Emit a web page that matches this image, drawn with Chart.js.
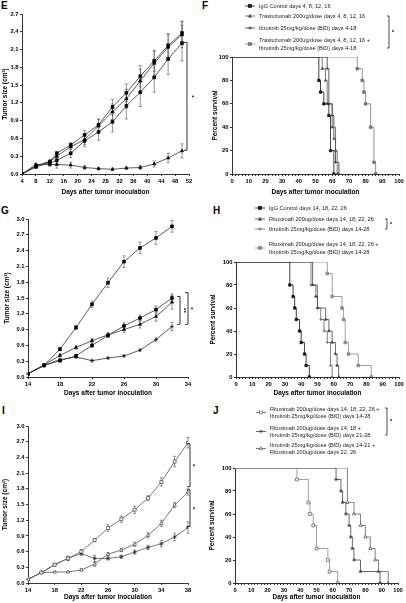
<!DOCTYPE html>
<html>
<head>
<meta charset="utf-8">
<script src="https://cdn.jsdelivr.net/npm/chart.js@4"></script>
<style>
  body { margin: 0; width: 406px; height: 603px; position: relative; overflow: hidden; background: #fff; font-family: "Liberation Sans", Arial, sans-serif; }
  canvas { position: absolute; }
  .lab { position: absolute; font-weight: bold; font-size: 10px; line-height: 10px; color: #000; }
  .lg { position: absolute; font-size: 5.6px; color: #222; white-space: nowrap; }
  #ov { position: absolute; left: 0; top: 0; }
</style>
</head>
<body>
<div class="lab" style="left:1px;top:1px">E</div>
<div class="lab" style="left:202px;top:1px">F</div>
<div class="lab" style="left:1px;top:206px">G</div>
<div class="lab" style="left:213px;top:206px">H</div>
<div class="lab" style="left:2px;top:406px">I</div>
<div class="lab" style="left:213px;top:406px">J</div>

<canvas id="chartE" width="200" height="200" style="left:0;top:0"></canvas>
<canvas id="chartF" width="206" height="155" style="left:200px;top:45px"></canvas>
<canvas id="chartG" width="200" height="200" style="left:0;top:200px"></canvas>
<canvas id="chartH" width="206" height="145" style="left:200px;top:255px"></canvas>
<canvas id="chartI" width="200" height="203" style="left:0;top:400px"></canvas>
<canvas id="chartJ" width="206" height="143" style="left:200px;top:460px"></canvas>
<svg id="ov" width="406" height="603"></svg>

<script>
// ---- E: tumor size, trastuzumab +/- ibrutinib ----
const eDays = [4, 8, 12, 14, 18, 22, 26, 30, 34, 38, 42, 46, 50];
const eIgG = [0, 0.14, 0.21, 0.35, 0.49, 0.66, 0.83, 1.13, 1.37, 1.65, 1.91, 2.17, 2.38];
const eIgGErr = [0, 0.02, 0.02, 0.03, 0.04, 0.07, 0.1, 0.13, 0.15, 0.18, 0.18, 0.2, 0.2];
const eTras = [0, 0.13, 0.21, 0.3, 0.46, 0.58, 0.81, 1.05, 1.27, 1.57, 1.87, 2.14, 2.35];
const eTrasErr = [0, 0.02, 0.02, 0.04, 0.05, 0.08, 0.11, 0.13, 0.16, 0.2, 0.2, 0.22, 0.22];
const eIbr = [0, 0.12, 0.19, 0.23, 0.35, 0.56, 0.71, 0.88, 1.15, 1.38, 1.63, 1.94, 2.21];
const eIbrErr = [0, 0.02, 0.03, 0.05, 0.07, 0.1, 0.14, 0.17, 0.22, 0.24, 0.25, 0.26, 0.3];
const eCombo = [0, 0.16, 0.16, 0.16, 0.15, 0.11, 0.09, 0.08, 0.1, 0.11, 0.17, 0.27, 0.39];
const eComboErr = [0, 0.02, 0.03, 0.06, 0.05, 0.03, 0.02, 0.02, 0.02, 0.03, 0.05, 0.08, 0.12];

// ---- F: survival ----
const fNames = [
  'IgG Control days 4, 8, 12, 16',
  'Trastuzumab 200ug/dose days 4, 8, 12, 16',
  'Ibrutinib 25mg/kg/dose (BID) days 4-18',
  'Trastuzumab 200ug/dose days 4, 8, 12, 16 +\nIbrutinib 25mg/kg/dose (BID) days 4-18',
];
const fIgGDays = [0, 52, 53, 55, 58, 59, 61];
const fIgGSurv = [100, 80, 70, 60, 50, 20, 0];
const fTrasDays = [0, 54, 56, 57, 60, 62, 63];
const fTrasSurv = [100, 90, 80, 60, 40, 20, 0];
const fIbrDays = [0, 57, 58, 60, 61, 62, 64];
const fIbrSurv = [100, 90, 60, 50, 30, 10, 0];
const fComboDays = [0, 75, 78, 79, 80, 83, 85, 86];
const fComboSurv = [100, 90, 80, 70, 60, 40, 10, 0];

// ---- G: tumor size, rituximab +/- ibrutinib ----
const gDays = [14, 16, 18, 20, 22, 24, 26, 28, 30, 32];
const gIgG = [0.06, 0.22, 0.53, 0.94, 1.38, 1.79, 2.19, 2.45, 2.64, 2.86];
const gIgGErr = [0.01, 0.02, 0.03, 0.04, 0.06, 0.09, 0.11, 0.11, 0.12, 0.11];
const gRit = [0.06, 0.22, 0.31, 0.4, 0.6, 0.79, 0.97, 1.12, 1.28, 1.5];
const gRitErr = [0.01, 0.02, 0.02, 0.03, 0.04, 0.04, 0.06, 0.06, 0.07, 0.08];
const gIbr = [0.06, 0.23, 0.41, 0.56, 0.69, 0.8, 0.9, 1.0, 1.15, 1.42];
const gIbrErr = [0.01, 0.02, 0.03, 0.03, 0.04, 0.04, 0.06, 0.07, 0.09, 0.13];
const gCombo = [0.06, 0.22, 0.33, 0.38, 0.31, 0.36, 0.4, 0.51, 0.71, 0.96];
const gComboErr = [0.01, 0.01, 0.02, 0.02, 0.02, 0.02, 0.02, 0.02, 0.03, 0.08];

// ---- H: survival ----
const hNames = [
  'IgG Control days 14, 18, 22, 26',
  'Rituximab 200ug/dose days 14, 18, 22, 26',
  'Ibrutinib 25mg/kg/dose (BID) days 14-28',
  'Rituximab 200ug/dose days 14, 18, 22, 26 +\nIbrutinib 25mg/kg/dose (BID) days 14-28',
];
const hIgGDays = [0, 33, 35, 36, 37, 39, 40, 42, 43, 45];
const hIgGSurv = [100, 80, 70, 60, 50, 40, 30, 20, 10, 0];
const hRitDays = [0, 47, 49, 50, 55, 57, 59, 61, 62, 63];
const hRitSurv = [100, 80, 70, 60, 50, 40, 30, 20, 10, 0];
const hIbrDays = [0, 46, 50, 52, 54, 56, 58, 59];
const hIbrSurv = [100, 80, 60, 50, 40, 30, 10, 0];
const hComboDays = [0, 56, 59, 65, 66, 67, 69, 75, 83];
const hComboSurv = [100, 90, 70, 60, 50, 30, 20, 10, 0];

// ---- I: tumor size, treatment schedules ----
const iDays = [14, 16, 18, 20, 22, 24, 26, 28, 30, 32, 34, 36, 38];
const iConc = [0.07, 0.2, 0.35, 0.47, 0.6, 0.82, 1.05, 1.22, 1.4, 1.62, 1.93, 2.32, 2.68];
const iConcErr = [0.01, 0.02, 0.02, 0.04, 0.04, 0.03, 0.06, 0.06, 0.07, 0.05, 0.08, 0.1, 0.1];
const iRitFirst = [0.07, 0.2, 0.35, 0.47, 0.56, 0.47, 0.47, 0.5, 0.59, 0.68, 0.75, 0.88, 1.06];
const iRitFirstErr = [0.01, 0.02, 0.02, 0.04, 0.03, 0.06, 0.03, 0.03, 0.04, 0.04, 0.06, 0.07, 0.11];
const iIbrFirst = [0.07, 0.2, 0.21, 0.21, 0.25, 0.36, 0.55, 0.63, 0.74, 0.91, 1.14, 1.49, 1.74];
const iIbrFirstErr = [0.01, 0.01, 0.01, 0.01, 0.02, 0.04, 0.03, 0.03, 0.04, 0.05, 0.06, 0.05, 0.06];

// ---- J: survival ----
const jNames = [
  'Rituximab 200ug/dose days 14, 18, 22, 26 +\nIbrutinib 25mg/kg/dose (BID) days 14-28',
  'Rituximab 200ug/dose days 14, 18 +\nIbrutinib 25mg/kg/dose (BID) days 21-28',
  'Ibrutinib 25mg/kg/dose (BID) days 14-21 +\nRituximab 200ug/dose days 22, 26',
];
const jConcDays = [0, 38, 45, 46, 48, 50, 57, 58, 63];
const jConcSurv = [100, 90, 70, 60, 50, 30, 20, 10, 0];
const jRitFirstDays = [0, 62, 65, 66, 68, 70, 71, 72, 73, 77, 89];
const jRitFirstSurv = [100, 90, 80, 70, 60, 50, 40, 30, 20, 10, 0];
const jIbrFirstDays = [0, 69, 73, 77, 80, 83, 86, 88, 94];
const jIbrFirstSurv = [100, 70, 60, 50, 40, 30, 20, 10, 0];

Chart.defaults.font.family = 'Liberation Sans';

const tickFont = { size: 5.8, weight: 'bold' };
const titleFont = { size: 6.5, weight: 'bold', lineHeight: 1 };

// error bars under the points, significance brackets on top
const extras = {
  id: 'extras',
  beforeDatasetsDraw(chart) {
    const { ctx, scales: { x, y } } = chart;
    chart.data.datasets.forEach((ds) => {
      if (!ds.err) return;
      ctx.save();
      ctx.strokeStyle = '#666';
      ctx.lineWidth = 0.7;
      ds.data.forEach((p, j) => {
        const e = ds.err[j];
        if (!e) return;
        const px = x.getPixelForValue(p.x);
        const y1 = y.getPixelForValue(p.y + e);
        const y2 = y.getPixelForValue(p.y - e);
        ctx.beginPath();
        ctx.moveTo(px, y1); ctx.lineTo(px, y2);
        ctx.moveTo(px - 1.5, y1); ctx.lineTo(px + 1.5, y1);
        ctx.moveTo(px - 1.5, y2); ctx.lineTo(px + 1.5, y2);
        ctx.stroke();
      });
      ctx.restore();
    });
  },
  afterDraw(chart, args, opts) {
    const { ctx, chartArea, scales: { y } } = chart;
    (opts.brackets || []).forEach((b) => {
      const bx = chartArea.right + b.dx;
      const y1 = y.getPixelForValue(b.from);
      const y2 = y.getPixelForValue(b.to);
      ctx.save();
      ctx.strokeStyle = '#000';
      ctx.lineWidth = 0.8;
      ctx.beginPath();
      ctx.moveTo(bx - 3, y1); ctx.lineTo(bx, y1); ctx.lineTo(bx, y2); ctx.lineTo(bx - 3, y2);
      ctx.stroke();
      ctx.fillStyle = '#000';
      ctx.font = 'bold 6px "Liberation Sans"';
      ctx.translate(bx + b.lx, (y1 + y2) / 2);
      ctx.rotate(Math.PI / 2);
      ctx.textAlign = 'center';
      ctx.textBaseline = 'middle';
      ctx.fillText(b.text, 0, 0);
      ctx.restore();
    });
  },
};

const axis = (o) => ({
  type: 'linear',
  min: o.min,
  max: o.max,
  border: { display: true, color: '#000', width: 0.8 },
  grid: { display: true, drawOnChartArea: false, drawTicks: true, tickLength: 2, color: '#000', lineWidth: 0.8 },
  ticks: { stepSize: o.step, font: tickFont, color: '#000', padding: 1.5, autoSkip: false, maxRotation: 0, callback: o.fmt },
  title: { display: true, text: o.title, font: titleFont, color: '#000', padding: o.titlePad },
  afterFit: o.fit,
});

const tumorSet = (days, vals, err, style) => ({
  data: days.map((d, i) => ({ x: d, y: vals[i] })),
  err,
  borderColor: style.line || '#333',
  borderWidth: 0.8,
  pointStyle: style.shape,
  pointRadius: style.r || 1.8,
  pointBackgroundColor: style.fill || '#000',
  pointBorderColor: style.edge || '#000',
  pointBorderWidth: 0.7,
});

const survSet = (days, surv, style) => ({
  data: days.map((d, i) => ({ x: d, y: surv[i] })),
  stepped: true,
  borderColor: style.line,
  borderWidth: 0.8,
  pointStyle: style.shape,
  pointRadius: days.map((d, i) => (i === 0 ? 0 : style.r || 1.5)),
  pointBackgroundColor: style.fill || style.line,
  pointBorderColor: style.edge || style.line,
  pointBorderWidth: 0.7,
});

const drawChart = (id, c) => new Chart(document.getElementById(id), {
  type: 'line',
  data: { datasets: c.datasets },
  options: {
    responsive: false,
    animation: false,
    devicePixelRatio: 1,
    layout: { padding: c.pad },
    plugins: { legend: { display: false }, tooltip: { enabled: false }, extras: { brackets: c.brackets || [] } },
    scales: { x: axis(c.x), y: axis(c.y) },
  },
  plugins: [extras],
});

const oneDec = (v) => v.toFixed(1);
const tens = (v) => (v % 10 === 0 ? v : '');
const xDays = 'Days after tumor inoculation';
const yTumor = 'Tumor size (cm²)';
const ySurv = 'Percent survival';

drawChart('chartE', {
  pad: { top: 14, right: 11, left: 0, bottom: 0 },
  x: { min: 4, max: 52, step: 4, title: xDays, titlePad: { top: 0, bottom: 4.75 }, fit: (s) => { s.height = 26; } },
  y: { min: 0, max: 2.7, step: 0.3, fmt: oneDec, title: yTumor, titlePad: { top: 1.75, bottom: 0 }, fit: (s) => { s.width = 22; } },
  datasets: [
    tumorSet(eDays, eIgG, eIgGErr, { shape: 'rect', r: 2 }),
    tumorSet(eDays, eTras, eTrasErr, { shape: 'triangle', r: 2 }),
    tumorSet(eDays, eIbr, eIbrErr, { shape: 'rect', r: 2 }),
    tumorSet(eDays, eCombo, eComboErr, { shape: 'triangle', r: 1.8 }),
  ],
  brackets: [{ from: 2.22, to: 0.4, dx: -2, lx: 5, text: '*' }],
});

drawChart('chartF', {
  pad: { top: 12, right: 7, left: 0, bottom: 0 },
  x: { min: 0, max: 100, step: 2, fmt: tens, title: xDays, titlePad: { top: 0, bottom: 4.75 }, fit: (s) => { s.height = 26; } },
  y: { min: 0, max: 100, step: 20, title: ySurv, titlePad: { top: 12.25, bottom: 0 }, fit: (s) => { s.width = 32; } },
  datasets: [
    survSet(fIgGDays, fIgGSurv, { line: '#111', shape: 'rect', r: 1.7 }),
    survSet(fTrasDays, fTrasSurv, { line: '#555', shape: 'triangle' }),
    survSet(fIbrDays, fIbrSurv, { line: '#333', shape: 'cross' }),
    survSet(fComboDays, fComboSurv, { line: '#777', shape: 'rect', r: 1.9 }),
  ],
});

drawChart('chartG', {
  pad: { top: 19, right: 12, left: 0, bottom: 0 },
  x: { min: 14, max: 34, step: 4, title: xDays, titlePad: { top: 0, bottom: 3.75 }, fit: (s) => { s.height = 23; } },
  y: { min: 0, max: 3.0, step: 0.3, fmt: oneDec, title: yTumor, titlePad: { top: 3.75, bottom: 0 }, fit: (s) => { s.width = 28; } },
  datasets: [
    tumorSet(gDays, gIgG, gIgGErr, { shape: 'rect', r: 2 }),
    tumorSet(gDays, gRit, gRitErr, { shape: 'rect', r: 2 }),
    tumorSet(gDays, gIbr, gIbrErr, { shape: 'triangle', r: 1.8 }),
    tumorSet(gDays, gCombo, gComboErr, { shape: 'cross', r: 1.8 }),
  ],
  brackets: [
    { from: 1.53, to: 1.0, dx: -8, lx: 3.5, text: '**' },
    { from: 1.6, to: 1.0, dx: 0, lx: 3, text: '*' },
  ],
});

drawChart('chartH', {
  pad: { top: 7, right: 7, left: 0, bottom: 0 },
  x: { min: 0, max: 100, step: 2, fmt: tens, title: xDays, titlePad: { top: 0, bottom: 3.75 }, fit: (s) => { s.height = 23; } },
  y: { min: 0, max: 100, step: 20, title: ySurv, titlePad: { top: 9.75, bottom: 0 }, fit: (s) => { s.width = 36; } },
  datasets: [
    survSet(hIgGDays, hIgGSurv, { line: '#111', shape: 'rect', r: 1.7 }),
    survSet(hRitDays, hRitSurv, { line: '#444', shape: 'triangle' }),
    survSet(hIbrDays, hIbrSurv, { line: '#666', shape: 'cross' }),
    survSet(hComboDays, hComboSurv, { line: '#888', shape: 'rect', r: 1.9 }),
  ],
});

drawChart('chartI', {
  pad: { top: 26, right: 12, left: 0, bottom: 0 },
  x: { min: 14, max: 38, step: 4, title: xDays, titlePad: { top: 0, bottom: 2.75 }, fit: (s) => { s.height = 20; } },
  y: { min: 0, max: 3.0, step: 0.3, fmt: oneDec, title: yTumor, titlePad: { top: 1.75, bottom: 0 }, fit: (s) => { s.width = 28; } },
  datasets: [
    tumorSet(iDays, iConc, iConcErr, { line: '#555', shape: 'rect', r: 2.1, fill: '#fff', edge: '#444' }),
    tumorSet(iDays, iRitFirst, iRitFirstErr, { line: '#555', shape: 'star', r: 2, edge: '#333' }),
    tumorSet(iDays, iIbrFirst, iIbrFirstErr, { line: '#555', shape: 'triangle', r: 2, fill: '#fff', edge: '#444' }),
  ],
  brackets: [
    { from: 2.66, to: 1.84, dx: 2, lx: 3, text: '*' },
    { from: 1.78, to: 1.08, dx: 2, lx: 3, text: '*' },
  ],
});

drawChart('chartJ', {
  pad: { top: 8, right: 8, left: 0, bottom: 0 },
  x: { min: 0, max: 100, step: 2, fmt: tens, title: xDays, titlePad: { top: 0, bottom: 2.75 }, fit: (s) => { s.height = 20; } },
  y: { min: 0, max: 100, step: 20, title: ySurv, titlePad: { top: 8.75, bottom: 0 }, fit: (s) => { s.width = 35; } },
  datasets: [
    survSet(jConcDays, jConcSurv, { line: '#888', shape: 'rect', r: 2, fill: '#fff', edge: '#555' }),
    survSet(jRitFirstDays, jRitFirstSurv, { line: '#444', shape: 'star', r: 1.8 }),
    survSet(jIbrFirstDays, jIbrFirstSurv, { line: '#666', shape: 'triangle', r: 1.8, fill: '#fff', edge: '#444' }),
  ],
});

// ---- HTML legends with small svg markers ----
let svg = '';
const marker = (shape, cx, cy, color, open) => {
  const fill = open ? '#fff' : color;
  if (shape === 'rect') return `<rect x="${cx - 1.4}" y="${cy - 1.4}" width="2.8" height="2.8" fill="${fill}" stroke="${color}" stroke-width="0.7"/>`;
  if (shape === 'triangle') return `<path d="M${cx} ${cy - 1.7}L${cx + 1.6} ${cy + 1.2}H${cx - 1.6}Z" fill="${fill}" stroke="${color}" stroke-width="0.7"/>`;
  if (shape === 'cross') return `<path d="M${cx - 1.6} ${cy}H${cx + 1.6}M${cx} ${cy - 1.6}V${cy + 1.6}" stroke="${color}" stroke-width="0.8"/>`;
  return `<path d="M${cx - 1.6} ${cy}H${cx + 1.6}M${cx} ${cy - 1.6}V${cy + 1.6}M${cx - 1.1} ${cy - 1.1}L${cx + 1.1} ${cy + 1.1}M${cx + 1.1} ${cy - 1.1}L${cx - 1.1} ${cy + 1.1}" stroke="${color}" stroke-width="0.7"/>`;
};

const addLegend = (names, styles, x, ys, lh) => {
  names.forEach((n, i) => {
    const lines = n.split('\n');
    const d = document.createElement('div');
    d.className = 'lg';
    d.style.left = x + 'px';
    d.style.top = (ys[i] - lh / 2) + 'px';
    d.style.lineHeight = lh + 'px';
    d.innerHTML = lines.join('<br>');
    document.body.appendChild(d);
    const cy = ys[i] + ((lines.length - 1) * lh) / 2;
    const s = styles[i];
    svg += `<line x1="${x - 14}" y1="${cy}" x2="${x - 4}" y2="${cy}" stroke="${s.color}" stroke-width="0.8"/>`;
    svg += marker(s.shape, x - 9, cy, s.color, s.open);
  });
};

const legendBracket = (bx, y1, y2, sx, sy) => {
  svg += `<path d="M${bx - 2} ${y1}H${bx}V${y2}H${bx - 2}" fill="none" stroke="#000" stroke-width="0.7"/>`;
  svg += `<text x="${sx}" y="${sy}" font-size="6" font-weight="bold" font-family="Liberation Sans" text-anchor="middle" dominant-baseline="middle">*</text>`;
};

addLegend(fNames, [
  { shape: 'rect', color: '#111' },
  { shape: 'triangle', color: '#555' },
  { shape: 'cross', color: '#333' },
  { shape: 'rect', color: '#777' },
], 259, [6, 16, 28, 40], 8);
legendBracket(389, 16, 48, 393, 32);

addLegend(hNames, [
  { shape: 'rect', color: '#111' },
  { shape: 'triangle', color: '#444' },
  { shape: 'cross', color: '#666' },
  { shape: 'rect', color: '#888' },
], 269, [208, 219, 229, 244], 8);
legendBracket(387, 219, 229, 391, 224);

addLegend(jNames, [
  { shape: 'rect', color: '#666', open: true },
  { shape: 'star', color: '#444' },
  { shape: 'triangle', color: '#555', open: true },
], 270, [409, 428, 445], 7);
legendBracket(387, 408, 435, 391, 421);

document.getElementById('ov').innerHTML = svg;
</script>
</body>
</html>
